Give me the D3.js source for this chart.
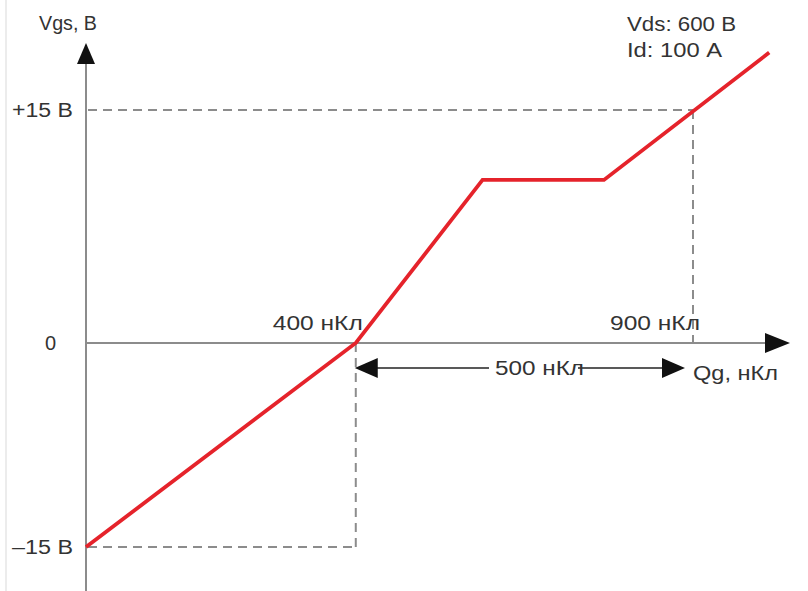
<!DOCTYPE html>
<html>
<head>
<meta charset="utf-8">
<script src="https://cdn.jsdelivr.net/npm/d3@7"></script>
<style>
  html, body { margin: 0; padding: 0; background: #fff; }
  svg { display: block; }
  text { font-family: "Liberation Sans", Arial, Helvetica, sans-serif; fill: #333; }
</style>
</head>
<body>
<script>
// Gate charge curve: Vgs versus Qg, switching from -15 V to +15 V
const chargeQ = [0, 400, 588, 768, 1013];       // nC
const gateV   = [-15, 0, 10.5, 10.5, 18.7];     // V
const yTickValues = [15, 0, -15];
const yTickLabels = ["+15 В", "0", "–15 В"];
const xTickValues = [400, 900];
const xTickLabels = ["400 нКл", "900 нКл"];
const spanFrom = 400, spanTo = 900;             // double-arrow span
const spanLabel = "500 нКл";
const conditions = ["Vds: 600 В", "Id: 100 А"];
const yTitle = "Vgs, В";
const xTitle = "Qg, нКл";

const W = 808, H = 591;
const svg = d3.select("body").append("svg").attr("width", W).attr("height", H);

// schematic axes: the negative half of the voltage axis is drawn shorter
const x = d3.scaleLinear().domain([0, 900]).range([86, 693]);
const y = d3.scaleLinear().domain([-15, 0, 15]).range([547, 343, 110]);

const axisColor = "#8c8c8c";
const x0 = x(0), y0 = y(0);
const fs = 20;

// wide lettering: each label is stretched to a set width
function label(sel, width) {
  return sel.attr("font-size", fs).attr("textLength", width).attr("lengthAdjust", "spacingAndGlyphs");
}

// faint page edge on the left
svg.append("rect").attr("x", 5).attr("y", 0).attr("width", 2).attr("height", H).attr("fill", "#ececec");

// dashed guides to the +15 V / 900 nC and -15 V / 400 nC points
const guides = svg.append("g").attr("stroke", axisColor).attr("stroke-width", 2)
  .attr("stroke-dasharray", "9,6").attr("fill", "none");
guides.append("line").attr("x1", x0 + 2).attr("x2", x(900)).attr("y1", y(15)).attr("y2", y(15));
guides.append("line").attr("x1", x(900)).attr("x2", x(900)).attr("y1", y(15)).attr("y2", y0);
guides.append("line").attr("x1", x0 + 2).attr("x2", x(400)).attr("y1", y(-15)).attr("y2", y(-15));
guides.append("line").attr("x1", x(400)).attr("x2", x(400)).attr("y1", y0).attr("y2", y(-15));

// axes with arrowheads
svg.append("line").attr("x1", x0).attr("x2", x0).attr("y1", H).attr("y2", 62)
  .attr("stroke", axisColor).attr("stroke-width", 2);
svg.append("line").attr("x1", x0).attr("x2", 766).attr("y1", y0).attr("y2", y0)
  .attr("stroke", axisColor).attr("stroke-width", 2);
svg.append("path").attr("d", `M${x0},43 L${x0 - 9},64 L${x0 + 9},64 Z`).attr("fill", "#111");
svg.append("path").attr("d", `M790,${y0} L765,${y0 - 10} L765,${y0 + 10} Z`).attr("fill", "#111");

// gate charge curve
const line = d3.line().x(d => x(d[0])).y(d => y(d[1]));
svg.append("path")
  .datum(chargeQ.map((q, i) => [q, gateV[i]]))
  .attr("d", line)
  .attr("fill", "none").attr("stroke", "#e5232b").attr("stroke-width", 3.8)
  .attr("stroke-linejoin", "miter");

// double arrow marking the 400..900 nC span
const ay = 368;
const ax1 = x(spanFrom) - 1, ax2 = x(spanTo) - 8;
const arrowG = svg.append("g");
arrowG.append("line").attr("x1", ax1 + 20).attr("x2", 489).attr("y1", ay).attr("y2", ay)
  .attr("stroke", "#222").attr("stroke-width", 1.5);
arrowG.append("line").attr("x1", 578).attr("x2", ax2 - 20).attr("y1", ay).attr("y2", ay)
  .attr("stroke", "#222").attr("stroke-width", 1.5);
arrowG.append("path").attr("d", `M${ax1},${ay} L${ax1 + 23},${ay - 10} L${ax1 + 23},${ay + 10} Z`).attr("fill", "#111");
arrowG.append("path").attr("d", `M${ax2},${ay} L${ax2 - 23},${ay - 10} L${ax2 - 23},${ay + 10} Z`).attr("fill", "#111");
label(svg.append("text").attr("x", 495).attr("y", ay + 7), 89).text(spanLabel);

// tick labels
svg.selectAll("text.ylab").data(yTickValues).join("text").attr("class", "ylab")
  .attr("x", (d, i) => yTickLabels[i] === "0" ? 45 : 12)
  .attr("y", d => y(d) + 7)
  .attr("font-size", fs)
  .each(function (d, i) {
    if (yTickLabels[i] !== "0") label(d3.select(this), 61);
  })
  .text((d, i) => yTickLabels[i]);
svg.selectAll("text.xlab").data(xTickValues).join("text").attr("class", "xlab")
  .attr("x", d => x(d) - 83)
  .attr("y", y0 - 13)
  .call(label, 90)
  .text((d, i) => xTickLabels[i]);

// axis titles and test conditions
label(svg.append("text").attr("x", 39).attr("y", 30), 58).text(yTitle);
label(svg.append("text").attr("x", 693).attr("y", 380), 85).text(xTitle);
svg.selectAll("text.cond").data(conditions).join("text").attr("class", "cond")
  .attr("x", 627).attr("y", (d, i) => 31 + i * 26)
  .call(label, (d, i) => i === 0 ? 109 : 95)
  .text(d => d);
</script>
</body>
</html>
